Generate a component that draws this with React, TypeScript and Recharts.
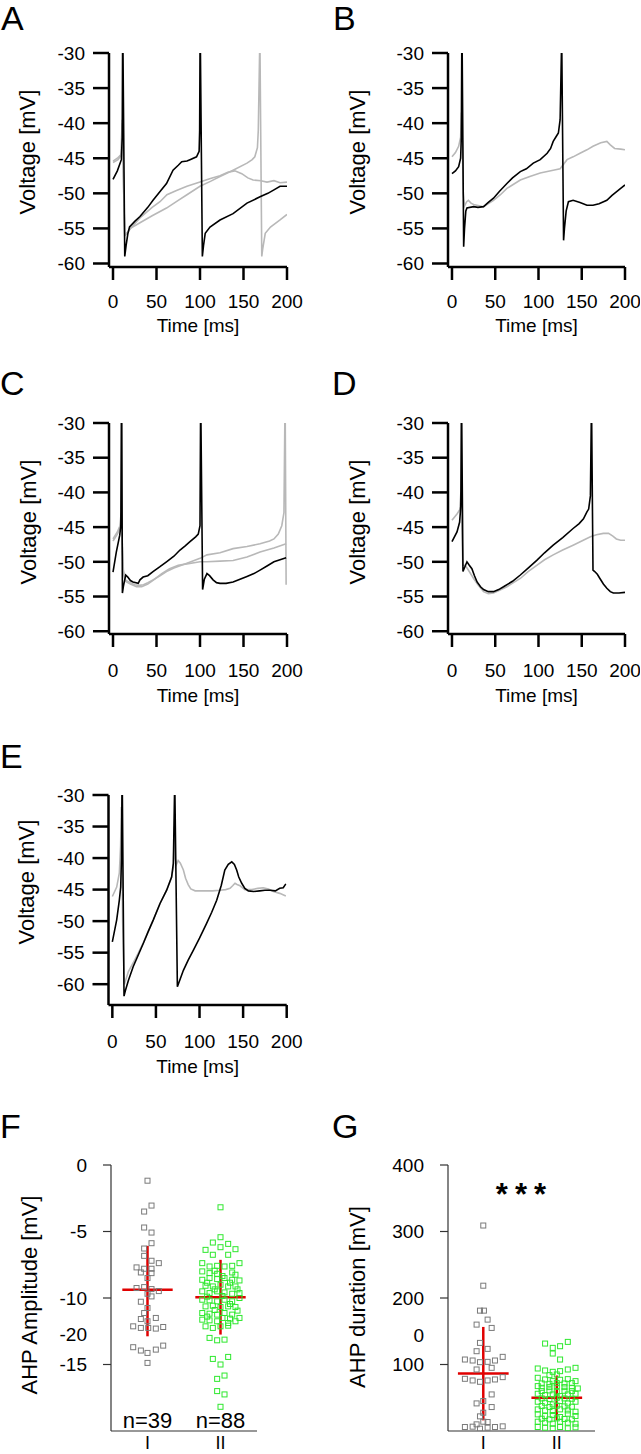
import React from 'react';
import {
  LineChart, Line, XAxis, YAxis, ScatterChart, Scatter, ReferenceLine, ReferenceDot,
} from 'recharts';

const FONT = '"Liberation Sans", Arial, Helvetica, sans-serif';

type Pt = [number, number];

// axis ticks for the voltage traces
const TIME_TICKS = [0, 50, 100, 150, 200];
const VOLT_TICKS = [-30, -35, -40, -45, -50, -55, -60];

// traces: [time ms, voltage mV]
const A_BLACK: Pt[] = [
  [0, -48], [5, -46.8], [9.6, -45.2], [10.6, -42], [11, -30], [11.5, -30], [13.5, -59], [15, -57.5],
  [17, -55.8], [19, -54.8], [25, -54], [31, -53.3], [40, -52], [46, -51], [55, -49.6], [61.5, -48.6],
  [69, -46.7], [75, -46], [79, -45.5], [85, -45.4], [88.5, -45.2], [96, -44.8], [99, -44], [99.6, -41],
  [100, -30], [100.5, -30], [102.7, -59], [104, -57.5], [106, -55.7], [111.5, -54.8], [123, -53.8],
  [138, -52.9], [154, -51.4], [169, -50.5], [178, -50], [185, -49.5], [192, -49], [200, -49],
];
const A_GRAY1: Pt[] = [
  [0, -45.6], [5.8, -45.2], [8, -44.8], [10, -44.3], [10.6, -39.5], [11.2, -44], [13.5, -56], [17, -55.5],
  [20, -55], [31, -54.2], [45, -53.2], [61.5, -52.1], [75, -51], [85, -50.2], [100, -49], [112, -48.3],
  [123, -47.6], [138, -46.7], [154, -45.7], [160, -45.2], [163, -44.8], [166, -43.5], [167, -41],
  [168.5, -30], [169, -30], [171, -59], [172, -58], [175, -55.7], [181, -54.8], [192, -53.8], [200, -53],
];
const A_GRAY2: Pt[] = [
  [0, -45.4], [5, -45], [9, -44.5], [10.5, -40], [11.2, -44], [13.5, -56], [17, -55.5], [20, -55],
  [31, -53.5], [45, -52], [54, -51.2], [62, -50.2], [73, -49.6], [85, -49], [100, -48.4], [112, -47.9],
  [123, -47.5], [132, -47], [140, -46.8], [148, -47.2], [155, -47.8], [161, -48.1], [170, -48.2],
  [177, -48.4], [185, -48.2], [192, -48.5], [200, -48.4],
];

const B_BLACK: Pt[] = [
  [0, -47.2], [4, -46.8], [7.7, -46.2], [10, -45], [10.8, -42], [11.3, -30], [11.8, -30], [13.5, -57.6],
  [14.5, -55], [16, -52.5], [17.3, -52.1], [25, -51.9], [30, -52], [36.5, -51.9], [42, -51.3], [48, -50.7],
  [55, -49.7], [63.5, -48.6], [70, -47.8], [79, -46.9], [86, -46.5], [94, -45.7], [102, -45.2],
  [110, -44.3], [114, -43.6], [117, -42.6], [121, -41.8], [123, -41.4], [125, -39.5], [126.5, -30],
  [127, -30], [129, -56.7], [130, -55], [132, -52.5], [134.6, -51.2], [140, -51], [148, -51.3],
  [156, -51.7], [163, -51.7], [170, -51.5], [179, -51], [185, -50.3], [190, -49.8], [195, -49.3], [200, -48.8],
];
const B_GRAY: Pt[] = [
  [0, -44.8], [4, -44.2], [7.7, -43.3], [10, -42], [11, -38.5], [11.6, -40], [13, -50], [14.5, -51.8],
  [17, -51.2], [19, -51], [22, -51.4], [25, -51.6], [36.5, -51.9], [48, -51], [56, -50.2], [63.5, -49.3],
  [79, -48.1], [90, -47.6], [102, -47.1], [117, -46.7], [125, -46.5], [133, -45.2], [140, -44.8],
  [148, -44.3], [156, -43.8], [163, -43.3], [172, -42.8], [179, -42.6], [183, -43.1], [188, -43.6],
  [195, -43.7], [200, -43.8],
];

const C_BLACK: Pt[] = [
  [0, -51.5], [3.8, -48.6], [7.7, -46.2], [9, -44.8], [9.6, -30], [10.1, -30], [10.8, -54.5], [12, -53.5],
  [14.6, -51.9], [17, -52.2], [20, -52.7], [23, -52.9], [29, -53.1], [31, -52.6], [34.6, -52.2], [40, -52],
  [46, -51.4], [54, -50.7], [61.5, -50], [70, -49.2], [77, -48.3], [83, -47.7], [88.5, -47.1], [95, -46.4],
  [98, -46], [100, -44.8], [100.6, -30], [101.1, -30], [103, -54], [105, -52.5], [108, -51.7], [111, -52],
  [115, -52.6], [119, -53], [123, -53.1], [130, -53.1], [138, -52.9], [146, -52.5], [154, -52.1],
  [162, -51.7], [169, -51.2], [177, -50.6], [185, -50], [192, -49.7], [199, -49.4],
];
const C_GRAY1: Pt[] = [
  [0, -46.7], [5, -45.7], [8, -44.8], [9.3, -43], [10, -44.5], [11.5, -51], [14, -52.6], [20, -53],
  [25, -53.3], [30, -53.4], [35, -53.3], [40, -53], [46, -52.6], [54, -52], [61.5, -51.4], [70, -50.9],
  [85, -50.2], [100, -49.5], [108, -49], [123, -48.7], [138, -48.1], [154, -47.8], [169, -47.4],
  [180, -47], [185, -46.7], [190, -46], [194, -44.8], [196.5, -42.9], [197.5, -30], [198, -30], [199, -53.3],
];
const C_GRAY2: Pt[] = [
  [0, -47], [5, -46], [8, -45.2], [9.5, -44], [10.5, -47], [12, -51.5], [14, -52.8], [20, -53.2],
  [27, -53.6], [33, -53.6], [40, -53.2], [48, -52.5], [56, -51.7], [65, -51], [75, -50.5], [85, -50.3],
  [95, -50.1], [100, -50], [108, -50], [123, -49.9], [138, -49.8], [154, -49.3], [169, -48.6],
  [185, -48], [199, -47.4],
];

const D_BLACK: Pt[] = [
  [0, -47.1], [5.8, -45.7], [8.8, -44.3], [10.2, -42], [10.8, -30], [11.3, -30], [12.7, -51.4], [14, -51],
  [17.3, -50], [20, -50.5], [23, -51], [26, -52], [29, -52.9], [33, -53.6], [36.5, -54], [42, -54.3],
  [48, -54.3], [54, -54], [59.6, -53.6], [70, -52.8], [79, -51.9], [88, -50.9], [98, -49.8], [107, -48.7],
  [117, -47.6], [128, -46.5], [140, -45.2], [147, -44.5], [152, -43.8], [156, -42.8], [158, -42.4],
  [160, -40.5], [161, -30], [161.5, -30], [163, -51.2], [165, -51.4], [168, -51.8], [171, -52.4],
  [175, -53.2], [179, -53.8], [183, -54.3], [186.5, -54.5], [193, -54.5], [200, -54.4],
];
const D_GRAY: Pt[] = [
  [0, -44], [5.8, -43.1], [9, -42.5], [10.3, -40], [11, -43], [12.5, -50.5], [15, -50.5], [18, -51],
  [25, -52.4], [30, -53.3], [36.5, -54.3], [42, -54.6], [48, -54.5], [55, -54.1], [63.5, -53.6],
  [71, -53], [79, -52.4], [88, -51.4], [98, -50.5], [107, -49.7], [117, -49], [128, -48.3], [140, -47.6],
  [150, -47], [160, -46.4], [167, -46.1], [175, -45.9], [181, -45.9], [186, -46.3], [190, -46.7],
  [195, -46.9], [200, -46.9],
];

const E_BLACK: Pt[] = [
  [0, -53.3], [5, -49.8], [8, -46.7], [9.6, -44.6], [10.5, -40], [11, -30], [11.5, -30], [13.4, -61.9],
  [15, -61], [18.4, -59.4], [24, -57.2], [30, -55.3], [35.6, -53.5], [41, -51.7], [47, -49.8],
  [54.7, -47.2], [62.3, -45.1], [68, -43], [70, -40.8], [71.3, -30], [71.8, -30], [74.6, -60.4],
  [77, -59.5], [81.5, -57.8], [87, -56.2], [93, -54.6], [100, -52.7], [108, -50.4], [114, -48.6],
  [119.7, -46.7], [125, -44.3], [129, -41.9], [133, -41], [137, -40.6], [140, -41], [142.6, -41.9],
  [145, -43], [148.4, -44], [152, -44.8], [156, -45.2], [162, -45.3], [169, -45.2], [175, -45.1],
  [181, -45.1], [187, -45.2], [192, -44.8], [196, -44.7], [199, -44.1],
];
const E_GRAY: Pt[] = [
  [0, -46.1], [5, -44.6], [8, -42.4], [9.5, -38], [10.3, -31.9], [10.9, -38], [11.8, -50], [13.8, -60],
  [15, -59.5], [18.4, -58], [24, -56.6], [30, -55], [35.6, -53.4], [47, -49.8], [54.7, -47.2],
  [62.3, -45.1], [68, -43], [70, -41.5], [71.2, -35], [72, -40], [73.5, -41], [75.5, -40.4], [78, -40.8],
  [81.5, -41.9], [84, -43.2], [87, -44.2], [90, -44.9], [95, -45.2], [105, -45.2], [115, -45.2],
  [123.5, -45.1], [130, -45], [135, -44.8], [138, -44.4], [140.7, -44], [143, -44.2], [146.5, -44.4],
  [152, -45], [160, -45], [167, -44.8], [173, -44.7], [179, -44.9], [184.7, -45.3], [192, -45.6], [199, -46],
];

// group summary panels: [position along the group axis, value]
const GROUP_LABELS = ['I', 'II'];
const GROUP_POS = [1, 2];

const F_TICKS = [0, -5, -10, -12.75, -15];
const F_TICK_LABELS = ['0', '-5', '-10', '-20', '-15'];
const F_TICK_MARKED = [true, true, true, false, true];
const F_N = ['n=39', 'n=88'];
const F_MEAN = [-9.38, -9.95];
const F_HI = [-6.08, -7.13];
const F_LO = [-12.88, -12.75];

const F_I: Pt[] = [
  [1.0, -1.18], [1.055, -3.05], [0.954, -3.5], [0.954, -4.7], [1.055, -5.08], [1.055, -5.88],
  [0.954, -6.28], [0.954, -6.83], [1.055, -7.2], [1.155, -7.38], [0.85, -7.7], [0.954, -7.8],
  [1.055, -7.8], [0.909, -8.08], [1.055, -8.13], [1.0, -8.5], [0.85, -9.25], [0.954, -9.18],
  [1.055, -9.33], [1.155, -9.48], [1.0, -9.68], [1.055, -9.88], [0.909, -10.28], [1.0, -10.75],
  [0.954, -11.13], [0.909, -11.58], [1.0, -11.75], [1.114, -11.5], [0.804, -12.13], [0.909, -12.25],
  [1.01, -12.25], [1.114, -12.3], [1.215, -12.18], [0.804, -13.7], [0.909, -13.95], [1.0, -14.13],
  [1.114, -13.88], [1.215, -13.58], [1.0, -14.88],
];
const F_II: Pt[] = [
  [2.0, -3.18], [2.0, -5.43], [1.895, -5.83], [2.105, -5.93], [2.0, -6.18], [1.795, -6.38], [2.205, -6.33],
  [1.895, -6.75], [2.105, -6.75], [1.75, -7.38], [2.26, -7.38],
  [1.85, -7.63], [1.954, -7.58], [2.055, -7.63], [2.16, -7.58],
  [1.75, -8.0], [1.85, -8.13], [1.954, -8.18], [2.16, -8.08], [2.205, -8.25],
  [1.75, -8.63], [1.85, -8.5], [1.954, -8.58], [2.055, -8.5], [2.16, -8.63], [2.26, -8.68],
  [1.795, -9.08], [1.895, -9.13], [2.0, -9.0], [2.105, -9.13], [2.205, -9.13],
  [1.75, -9.5], [1.85, -9.63], [1.954, -9.5], [2.055, -9.58], [2.16, -9.68], [2.26, -9.63],
  [1.75, -10.13], [1.85, -10.18], [1.954, -10.25], [2.055, -10.13], [2.16, -10.25], [2.26, -10.0],
  [1.795, -10.63], [1.895, -10.58], [2.0, -10.68], [2.105, -10.63], [2.205, -10.68],
  [1.75, -11.13], [1.85, -11.18], [1.954, -11.25], [2.055, -11.13], [2.16, -11.25], [2.26, -11.5],
  [1.75, -11.63], [1.85, -11.68], [1.954, -11.75], [2.105, -11.88], [2.205, -11.75],
  [1.795, -12.13], [1.895, -12.25], [2.0, -12.13], [2.105, -12.08],
  [1.85, -13.0], [1.954, -13.18], [2.055, -13.13], [1.895, -14.58], [2.105, -14.43], [2.0, -15.0],
  [1.954, -16.08], [2.055, -15.83], [1.954, -17.0], [2.055, -17.25], [2.0, -18.18],
  [1.92, -7.95], [2.027, -8.35], [2.13, -8.85], [1.817, -8.85], [1.92, -9.35], [2.027, -9.85],
  [2.233, -9.35], [1.817, -9.9], [2.13, -10.45], [1.92, -10.9], [2.233, -10.95], [2.027, -11.5],
  [1.817, -11.4], [2.13, -11.55],
];

const G_TICKS = [400, 300, 200, 144, 100];
const G_TICK_LABELS = ['400', '300', '200', '0', '100'];
const G_TICK_MARKED = [true, true, true, false, true];
const G_MEAN = [86.5, 50];
const G_HI = [156.5, 83.5];
const G_LO = [16, 16];

const G_I: Pt[] = [
  [1.0, 309], [1.0, 218.5], [0.955, 181], [1.009, 181], [1.059, 167.5], [0.909, 160], [1.114, 155],
  [0.955, 132.5], [1.059, 123.5], [0.75, 107.5], [0.855, 106], [0.955, 103.5], [1.059, 104],
  [1.159, 106], [1.264, 111.5], [0.909, 92.5], [1.114, 95], [0.75, 78.5], [0.855, 76], [0.955, 74],
  [1.059, 76], [1.159, 77.5], [1.264, 81], [0.909, 41.5], [1.0, 45], [1.114, 36], [1.0, 27.5],
  [0.909, 10], [1.059, 13.5], [1.0, 14], [0.75, 6], [0.855, 6.5], [0.955, 3.5], [1.059, 5],
  [1.159, 6], [1.264, 7], [0.955, 22], [1.114, 55], [0.909, 120],
];
const G_II: Pt[] = [
  [1.841, 131.5], [2.15, 134], [2.045, 127.5], [1.945, 125], [1.945, 116.5], [2.045, 107.5],
  [1.741, 94], [1.841, 91], [1.945, 89], [2.045, 90], [2.15, 92.5], [2.255, 95],
  [1.741, 80], [1.841, 77.5], [1.945, 75], [2.045, 77], [2.15, 78], [2.255, 75],
  [1.741, 67.5], [1.795, 65], [1.9, 66], [2.0, 67.5], [2.105, 66], [2.205, 65], [2.286, 64],
  [1.741, 56], [1.841, 54], [1.945, 55], [2.045, 52.5], [2.15, 55], [2.255, 56],
  [1.741, 44], [1.841, 42.5], [1.945, 40], [2.045, 45], [2.15, 41.5], [2.255, 44],
  [1.741, 32.5], [1.841, 31], [1.945, 30], [2.045, 32.5], [2.15, 31], [2.255, 29],
  [1.741, 25], [1.841, 22.5], [1.945, 24], [2.045, 21], [2.15, 26], [2.255, 22.5],
  [1.741, 14], [1.841, 12.5], [1.945, 11], [2.045, 14], [2.15, 12.5], [2.255, 11],
  [1.741, 6], [1.841, 5], [1.945, 4], [2.045, 6], [2.15, 4], [2.255, 5.5],
  [1.795, 71.5], [1.9, 71], [2.0, 72], [2.105, 71.5], [2.205, 72],
  [1.795, 60], [1.9, 61], [2.0, 59], [2.105, 60.5], [2.205, 60],
  [1.795, 49], [1.9, 48], [2.0, 50], [2.105, 49], [2.205, 48.5],
  [1.795, 37.5], [1.9, 36], [2.0, 38], [2.105, 37], [2.205, 36.5],
  [1.795, 18.5], [1.9, 17.5], [2.0, 19], [2.105, 18], [2.205, 17.5],
  [2.0, 85], [1.9, 84],
];

const tv = (pts: Pt[]) => pts.map(([t, v]) => ({ t, v }));
const xy = (pts: Pt[]) => pts.map(([x, y]) => ({ x, y }));

function VTitle({ px, py, txt }: any) {
  return (
    <text x={px} y={py} transform={`rotate(-90 ${px} ${py})`} textAnchor="middle"
      dominantBaseline="central" fontSize={22} fill="#000" fontFamily={FONT}>{txt}</text>
  );
}

function TracePanel({ left, plotLeft, plotRight, plotTop, plotBottom, xMin, yMin, titleX, titleY,
  black, grays, tickGap = 15.5, timeGap = 66 }: any) {
  const top = plotTop - 15;
  const xh = 80;
  const w = 320;
  const h = 15 + (plotBottom - plotTop) + xh;
  const ax = { stroke: '#000', strokeWidth: 2.5 };
  return (
    <div style={{ position: 'absolute', left, top }}>
      <LineChart width={w} height={h} margin={{ top: 15, right: left + w - plotRight, left: 0, bottom: 0 }}>
        <XAxis type="number" dataKey="t" domain={[xMin, 200]} ticks={TIME_TICKS} interval={0}
          allowDataOverflow height={xh} axisLine={ax} tickLine={ax} tickSize={13} tickMargin={tickGap}
          tick={{ fontSize: 19, fill: '#000' }}
          label={{ value: 'Time [ms]', position: 'insideBottom', offset: xh - timeGap, fontSize: 19, fill: '#000' }} />
        <YAxis type="number" domain={[yMin, -30]} ticks={VOLT_TICKS} interval={0} allowDataOverflow
          width={plotLeft - left} axisLine={ax} tickLine={ax} tickSize={16} tickMargin={8}
          tick={{ fontSize: 19, fill: '#000' }}
          label={<VTitle px={titleX - left} py={titleY - top} txt="Voltage [mV]" />} />
        {grays.map((g: Pt[], i: number) => (
          <Line key={i} data={tv(g)} dataKey="v" stroke="#b8b8b8" strokeWidth={1.6} dot={false}
            isAnimationActive={false} />
        ))}
        <Line data={tv(black)} dataKey="v" stroke="#000" strokeWidth={1.6} dot={false} isAnimationActive={false} />
      </LineChart>
    </div>
  );
}

const square = (color: string) => (p: any) => (
  <rect x={p.cx - 2.5} y={p.cy - 2.5} width={5} height={5} fill="none" stroke={color} strokeWidth={1} />
);

function GroupPanel({ left, plotLeft, plotRight, xDomain, yDomain, ticks, tickLabels, tickMarked,
  title, titleX, titleY, g1, g2, mean, hi, lo, children }: any) {
  const plotTop = 1165;
  const plotBottom = 1431;
  const top = plotTop - 15;
  const w = 320;
  const xh = 40;
  const h = 15 + (plotBottom - plotTop) + xh;
  const axisX = plotLeft - left;
  const YTick = (p: any) => {
    const i = ticks.indexOf(p.payload.value);
    return (
      <g>
        {tickMarked[i] && <line x1={axisX - 8} x2={axisX} y1={p.y} y2={p.y} stroke="#333" strokeWidth={1.2} />}
        <text x={axisX - 24} y={p.y} dy="0.36em" textAnchor="end" fontSize={19} fill="#000">{tickLabels[i]}</text>
      </g>
    );
  };
  const ax = { stroke: '#333', strokeWidth: 1.2 };
  return (
    <div style={{ position: 'absolute', left, top }}>
      <ScatterChart width={w} height={h} margin={{ top: 15, right: left + w - plotRight, left: 0, bottom: 0 }}>
        <XAxis type="number" dataKey="x" domain={xDomain} ticks={GROUP_POS} interval={0} allowDataOverflow
          height={xh} axisLine={ax} tickLine={false} tickSize={0} tickMargin={5}
          tickFormatter={(v: number) => GROUP_LABELS[GROUP_POS.indexOf(v)]}
          tick={{ fontSize: 18, fill: '#000' }} />
        <YAxis type="number" dataKey="y" domain={yDomain} ticks={ticks} interval={0} allowDataOverflow
          width={axisX} axisLine={ax} tickLine={false} tick={YTick}
          label={<VTitle px={titleX - left} py={titleY - top} txt={title} />} />
        <Scatter data={xy(g1)} shape={square('#7a7a7a')} isAnimationActive={false} />
        <Scatter data={xy(g2)} shape={square('#2ee82e')} isAnimationActive={false} />
        {GROUP_POS.map((g, i) => (
          <ReferenceLine key={`h${i}`} segment={[{ x: g - 0.345, y: mean[i] }, { x: g + 0.345, y: mean[i] }]}
            stroke="#e00000" strokeWidth={2.5} />
        ))}
        {GROUP_POS.map((g, i) => (
          <ReferenceLine key={`v${i}`} segment={[{ x: g, y: lo[i] }, { x: g, y: hi[i] }]}
            stroke="#e00000" strokeWidth={2.5} />
        ))}
        {children}
      </ScatterChart>
    </div>
  );
}

const letter = (ch: string, left: number, top: number) => (
  <div style={{ position: 'absolute', left, top, fontSize: 34, lineHeight: '34px', color: '#000' }}>{ch}</div>
);

export default function App() {
  return (
    <div style={{
      position: 'absolute', left: 0, top: 0, width: 641, height: 1454, overflow: 'hidden',
      background: '#fff', fontFamily: FONT,
    }}>
      {letter('A', 1, 1)}
      {letter('B', 333, 1)}
      {letter('C', 0, 366)}
      {letter('D', 332, 366)}
      {letter('E', 0, 739)}
      {letter('F', 0, 1109)}
      {letter('G', 332, 1109)}

      <TracePanel left={0} plotLeft={109} plotRight={287} plotTop={53} plotBottom={267} xMin={-4.6} yMin={-60.5}
        titleX={27} titleY={152} black={A_BLACK} grays={[A_GRAY1, A_GRAY2]} tickGap={15} timeGap={65} />
      <TracePanel left={320} plotLeft={448} plotRight={625} plotTop={53} plotBottom={267} xMin={-4.6} yMin={-60.5}
        titleX={357} titleY={152} black={B_BLACK} grays={[B_GRAY]} tickGap={15} timeGap={65} />
      <TracePanel left={0} plotLeft={109} plotRight={287} plotTop={423} plotBottom={634} xMin={-4.6} yMin={-60.4}
        titleX={28} titleY={522} black={C_BLACK} grays={[C_GRAY1, C_GRAY2]} tickGap={17} timeGap={68} />
      <TracePanel left={320} plotLeft={448} plotRight={625} plotTop={423} plotBottom={634} xMin={-4.6} yMin={-60.4}
        titleX={357} titleY={522} black={D_BLACK} grays={[D_GRAY]} tickGap={17} timeGap={68} />
      <TracePanel left={0} plotLeft={108.5} plotRight={286.7} plotTop={795} plotBottom={1005} xMin={-4.4} yMin={-63.3}
        titleX={26} titleY={882} black={E_BLACK} grays={[E_GRAY]} tickGap={17} timeGap={68} />

      <GroupPanel left={0} plotLeft={111} plotRight={257} xDomain={[0.5, 2.5]} yDomain={[-20, 0]}
        ticks={F_TICKS} tickLabels={F_TICK_LABELS} tickMarked={F_TICK_MARKED}
        title="AHP Amplitude [mV]" titleX={29} titleY={1295} g1={F_I} g2={F_II} mean={F_MEAN} hi={F_HI} lo={F_LO}>
        {GROUP_POS.map((g, i) => (
          <ReferenceDot key={i} x={g} y={-19.2} r={1} fill="none" stroke="none"
            label={{ value: F_N[i], position: 'center', fontSize: 22, fill: '#000' }} />
        ))}
      </GroupPanel>
      <GroupPanel left={320} plotLeft={448} plotRight={595} xDomain={[0.52, 2.52]} yDomain={[0, 400]}
        ticks={G_TICKS} tickLabels={G_TICK_LABELS} tickMarked={G_TICK_MARKED}
        title="AHP duration [mV]" titleX={357} titleY={1297} g1={G_I} g2={G_II} mean={G_MEAN} hi={G_HI} lo={G_LO}>
        <ReferenceDot x={1.56} y={356} r={1} fill="none" stroke="none"
          label={{ value: '***', position: 'center', fontSize: 31, fontWeight: 'bold', fill: '#000', letterSpacing: 7 }} />
      </GroupPanel>
    </div>
  );
}
